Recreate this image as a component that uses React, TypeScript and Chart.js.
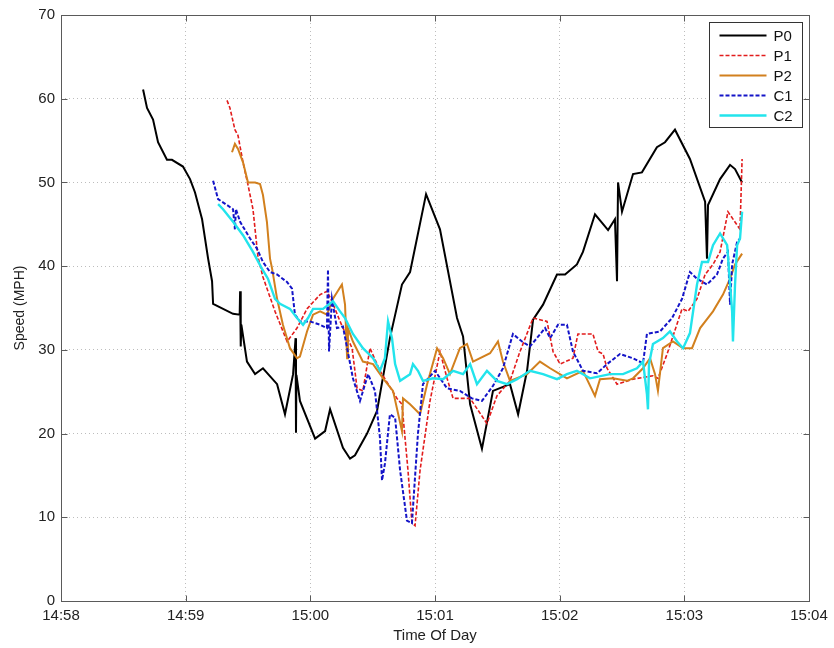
import React, { useEffect, useRef } from 'react';
import { Chart, registerables } from 'chart.js';

Chart.register(...registerables);

// x values: seconds after 14:58:00 ; y values: speed in MPH
const xTickLabels = ['14:58', '14:59', '15:00', '15:01', '15:02', '15:03', '15:04'];
const seriesNames = ['P0', 'P1', 'P2', 'C1', 'C2'];
const seriesColors = ['#000000', '#e21c1c', '#d2801e', '#1414c8', '#22e4ec'];
const seriesDashes: number[][] = [[], [4, 2], [], [4, 2], []];
const seriesWidths = [2, 1.6, 2, 2, 2.4];

const p0: [number, number][] = [
  [39.5, 61.1], [41.4, 58.9], [44.3, 57.5], [46.7, 54.8], [51.0, 52.7], [53.4, 52.7], [58.7, 51.9],
  [62.1, 50.4], [64.5, 48.8], [67.9, 45.6], [70.8, 40.9], [72.7, 38.2], [73.2, 35.5], [82.8, 34.3],
  [86.0, 34.2], [86.2, 37.0], [86.5, 30.4], [86.8, 33.0], [89.5, 28.6], [93.4, 27.1], [97.2, 27.8],
  [104.0, 25.9], [107.8, 22.3], [111.7, 27.1], [112.9, 31.4], [113.1, 20.1], [113.3, 27.0],
  [115.0, 23.9], [122.3, 19.4], [127.1, 20.3], [129.5, 22.9], [135.7, 18.3], [139.1, 17.0],
  [141.5, 17.4], [147.3, 20.0], [152.1, 22.7], [158.3, 31.4], [164.1, 37.8], [168.0, 39.3],
  [175.7, 48.6], [182.4, 44.4], [190.6, 33.8], [193.5, 31.6], [196.9, 23.5], [202.6, 18.2],
  [207.9, 25.1], [216.1, 25.9], [220.0, 22.3], [224.3, 27.5], [227.2, 33.6], [232.0, 35.4],
  [238.7, 39.0], [242.6, 39.0], [248.3, 40.2], [251.2, 41.7], [257.0, 46.2], [263.3, 44.3],
  [266.6, 45.6], [267.6, 38.2], [268.1, 50.0], [270.0, 46.5], [275.3, 51.0], [279.6, 51.2],
  [286.8, 54.2], [290.7, 54.8], [295.5, 56.3], [302.7, 52.8], [310.0, 47.7], [310.9, 40.9],
  [311.4, 47.3], [317.2, 50.4], [322.0, 52.1], [324.4, 51.6], [327.8, 50.0],
];

const p1: [number, number][] = [
  [79.9, 59.8], [81.3, 58.9], [83.7, 56.3], [85.2, 55.6], [87.6, 52.4], [90.0, 49.7], [92.4, 46.8],
  [94.8, 41.1], [97.2, 38.7], [103.0, 34.6], [108.8, 31.0], [113.6, 32.6], [118.4, 34.9],
  [124.7, 36.6], [128.0, 37.0], [130.4, 35.8], [134.3, 33.4], [140.1, 30.2], [142.5, 25.4],
  [145.3, 25.1], [148.7, 30.2], [153.5, 27.5], [161.7, 24.2], [164.1, 23.5], [167.0, 15.6],
  [168.9, 9.3], [170.4, 9.0], [172.8, 15.6], [177.6, 23.9], [182.4, 29.8], [185.8, 26.6],
  [188.7, 24.2], [196.9, 24.2], [205.0, 21.2], [209.8, 24.5], [216.1, 26.3], [220.9, 29.8],
  [227.2, 33.8], [233.9, 33.4], [236.8, 29.8], [240.2, 28.3], [246.4, 29.0], [248.8, 31.9],
  [256.0, 31.9], [258.5, 29.8], [260.9, 29.5], [262.8, 27.8], [267.6, 25.9], [275.3, 26.5],
  [284.9, 26.9], [287.3, 26.6], [291.7, 29.5], [298.9, 34.9], [301.8, 34.6], [306.1, 36.1],
  [310.0, 39.0], [313.8, 40.2], [317.2, 41.7], [321.0, 46.5], [325.4, 44.9], [326.8, 44.4],
  [327.8, 52.8],
];

const p2: [number, number][] = [
  [82.3, 53.6], [83.7, 54.6], [85.2, 54.0], [87.6, 52.4], [90.0, 50.0], [93.4, 50.0], [95.8, 49.8],
  [97.2, 48.5], [99.1, 45.3], [100.6, 40.9], [101.6, 39.7], [104.0, 36.1], [106.8, 33.0],
  [110.2, 30.2], [113.6, 29.0], [115.0, 29.2], [118.4, 32.2], [121.3, 34.2], [124.7, 34.6],
  [128.0, 34.2], [130.9, 36.1], [135.2, 37.8], [136.7, 35.4], [137.7, 29.0], [138.1, 32.6],
  [140.5, 31.0], [145.3, 28.6], [150.2, 28.3], [155.0, 26.6], [159.8, 25.1], [164.1, 20.3],
  [164.6, 24.2], [168.0, 23.5], [172.8, 22.3], [176.2, 25.9], [181.0, 30.2], [183.9, 29.0],
  [187.2, 27.1], [192.0, 30.2], [195.4, 30.7], [198.3, 28.6], [206.5, 29.6], [210.3, 31.0],
  [212.7, 28.6], [216.1, 26.3], [224.3, 27.1], [230.5, 28.6], [235.4, 27.8], [243.5, 26.6],
  [251.2, 27.5], [257.0, 24.5], [259.4, 26.5], [265.7, 26.6], [272.4, 26.3], [275.3, 26.6],
  [280.1, 27.8], [283.5, 29.0], [285.9, 27.1], [287.3, 25.1], [289.7, 30.2], [294.5, 31.0],
  [299.4, 30.2], [303.7, 30.2], [307.6, 32.6], [313.8, 34.6], [318.6, 36.6], [322.0, 38.5],
  [324.4, 40.2], [327.8, 41.5],
];

const c1: [number, number][] = [
  [73.2, 50.2], [75.6, 48.0], [79.9, 47.3], [82.8, 46.8], [83.7, 44.4], [84.2, 46.8], [86.2, 45.3],
  [91.0, 43.3], [94.3, 42.1], [97.2, 40.5], [100.6, 39.3], [104.0, 39.0], [108.8, 38.1],
  [111.2, 37.3], [112.6, 34.2], [115.0, 33.4], [119.8, 33.4], [124.7, 33.0], [128.0, 32.6],
  [128.5, 39.6], [129.0, 29.8], [130.4, 36.1], [132.8, 32.6], [135.7, 32.8], [140.5, 26.6],
  [143.9, 23.9], [147.8, 27.1], [151.1, 25.1], [153.5, 19.5], [154.5, 14.4], [155.9, 16.4],
  [158.3, 22.3], [160.8, 21.9], [163.2, 15.6], [166.5, 9.6], [168.9, 9.3], [171.8, 20.0],
  [174.2, 25.9], [180.0, 27.5], [185.8, 25.4], [192.0, 25.1], [197.8, 24.2], [202.6, 23.9],
  [207.9, 25.7], [212.7, 27.8], [217.5, 31.9], [221.9, 31.0], [225.7, 30.4], [233.0, 32.6],
  [235.4, 31.4], [239.2, 33.0], [243.5, 33.0], [246.4, 29.8], [251.2, 27.5], [258.0, 27.2],
  [262.8, 28.3], [269.0, 29.5], [275.3, 29.0], [280.1, 28.4], [282.0, 31.9], [288.3, 32.2],
  [294.1, 33.8], [298.9, 36.1], [302.7, 39.3], [306.1, 38.5], [310.9, 37.8], [315.7, 39.0],
  [318.6, 40.9], [321.0, 41.7], [322.0, 35.4], [323.0, 40.2], [325.4, 42.9], [326.8, 43.3],
];

const c2: [number, number][] = [
  [75.6, 47.4], [78.0, 46.8], [82.8, 45.3], [87.6, 43.7], [92.4, 41.7], [96.7, 39.7], [99.6, 38.5],
  [103.0, 36.1], [105.4, 35.5], [110.2, 34.9], [113.6, 33.8], [116.5, 33.0], [118.9, 33.8],
  [121.3, 34.9], [126.1, 34.9], [130.9, 35.8], [134.3, 34.6], [136.7, 33.8], [140.5, 31.9],
  [145.3, 30.2], [150.2, 29.0], [153.5, 27.5], [155.9, 29.0], [157.4, 33.4], [159.3, 31.4],
  [160.8, 28.3], [163.2, 26.3], [168.0, 27.1], [169.4, 28.3], [171.8, 27.5], [174.2, 26.3],
  [179.0, 26.6], [183.9, 26.5], [188.7, 27.5], [193.5, 27.1], [196.9, 28.3], [200.2, 25.9],
  [205.0, 27.5], [209.8, 26.3], [214.7, 25.9], [219.5, 26.5], [225.7, 27.5], [232.0, 27.1],
  [238.7, 26.5], [243.5, 27.1], [248.3, 27.5], [254.6, 26.6], [264.2, 27.1], [270.5, 27.1],
  [277.2, 27.8], [280.1, 28.6], [282.0, 24.7], [282.5, 22.9], [283.0, 28.3], [284.9, 30.7],
  [289.7, 31.4], [293.1, 32.2], [296.5, 31.0], [299.4, 30.2], [302.7, 32.0], [306.1, 37.8],
  [308.5, 40.5], [311.4, 40.5], [313.8, 42.5], [317.2, 43.9], [320.6, 42.5], [323.0, 34.6],
  [323.4, 31.0], [324.4, 37.8], [325.4, 42.5], [326.8, 43.3], [327.8, 46.5],
];

const seriesData = [p0, p1, p2, c1, c2];

const FONT = "'Liberation Sans', Arial, Helvetica, sans-serif";

const matlabFrame = {
  id: 'matlabFrame',
  afterDatasetsDraw(chart: any) {
    const { ctx, chartArea: a, scales } = chart;
    const L = Math.round(a.left) + 0.5;
    const R = Math.round(a.right) + 0.5;
    const T = Math.round(a.top) + 0.5;
    const B = Math.round(a.bottom) + 0.5;
    ctx.save();
    ctx.strokeStyle = '#5a5a5a';
    ctx.lineWidth = 1;
    ctx.beginPath();
    const tl = 6;
    scales.x.ticks.forEach((t: any) => {
      const px = Math.round(scales.x.getPixelForValue(t.value)) + 0.5;
      ctx.moveTo(px, B);
      ctx.lineTo(px, B - tl);
      ctx.moveTo(px, T);
      ctx.lineTo(px, T + tl);
    });
    scales.y.ticks.forEach((t: any) => {
      const py = Math.round(scales.y.getPixelForValue(t.value)) + 0.5;
      ctx.moveTo(L, py);
      ctx.lineTo(L + tl, py);
      ctx.moveTo(R, py);
      ctx.lineTo(R - tl, py);
    });
    ctx.stroke();
    ctx.strokeRect(L, T, R - L, B - T);

    // legend box (top-right, inside axes)
    const ds = chart.data.datasets;
    const boxW = 93;
    const rowH = 20;
    const boxH = ds.length * rowH + 5;
    const bx = Math.round(a.right - 7 - boxW) + 0.5;
    const by = Math.round(a.top + 7) + 0.5;
    ctx.fillStyle = '#ffffff';
    ctx.fillRect(bx, by, boxW, boxH);
    ctx.strokeStyle = '#333333';
    ctx.strokeRect(bx, by, boxW, boxH);
    ctx.font = `15px ${FONT}`;
    ctx.textBaseline = 'middle';
    ctx.textAlign = 'left';
    ds.forEach((d: any, i: number) => {
      const cy = by + 13 + i * rowH;
      ctx.beginPath();
      ctx.setLineDash(d.borderDash || []);
      ctx.strokeStyle = d.borderColor;
      ctx.lineWidth = d.borderWidth;
      ctx.moveTo(bx + 10, cy);
      ctx.lineTo(bx + 57, cy);
      ctx.stroke();
      ctx.setLineDash([]);
      ctx.fillStyle = '#111111';
      ctx.fillText(d.label, bx + 64, cy + 1);
    });
    ctx.restore();
  },
};

export default function App() {
  const ref = useRef<HTMLCanvasElement | null>(null);

  useEffect(() => {
    if (!ref.current) return;
    const datasets = seriesData.map((s, i) => ({
      label: seriesNames[i],
      data: s.map(([t, v]) => ({ x: t, y: v })),
      borderColor: seriesColors[i],
      backgroundColor: seriesColors[i],
      borderDash: seriesDashes[i],
      borderWidth: seriesWidths[i],
      pointRadius: 0,
      tension: 0,
      fill: false,
      order: seriesNames.length - i,
    }));

    const chart = new Chart(ref.current, {
      type: 'line',
      data: { datasets },
      options: {
        responsive: false,
        animation: false,
        devicePixelRatio: 1,
        layout: { padding: { left: 0, top: 12, right: 25, bottom: 0 } },
        plugins: {
          legend: { display: false },
          tooltip: { enabled: false },
        },
        scales: {
          x: {
            type: 'linear',
            min: 0,
            max: 360,
            afterFit: (scale: any) => {
              scale.height = 47;
            },
            ticks: {
              stepSize: 60,
              autoSkip: false,
              maxRotation: 0,
              padding: 6,
              color: '#222222',
              font: { family: FONT, size: 15 },
              callback: (v: any) => xTickLabels[Math.round(Number(v) / 60)],
            },
            grid: { color: '#bdbdbd', lineWidth: 1, drawTicks: false },
            border: { display: false, dash: [1, 3] },
            title: {
              display: true,
              text: 'Time Of Day',
              color: '#222222',
              font: { family: FONT, size: 15 },
              padding: { top: 0, bottom: 3 },
            },
          },
          y: {
            min: 0,
            max: 70,
            afterFit: (scale: any) => {
              scale.width = 61;
            },
            ticks: {
              stepSize: 10,
              padding: 6,
              color: '#222222',
              font: { family: FONT, size: 15 },
            },
            grid: { color: '#bdbdbd', lineWidth: 1, drawTicks: false },
            border: { display: false, dash: [1, 3] },
            title: {
              display: true,
              text: 'Speed (MPH)',
              color: '#222222',
              font: { family: FONT, size: 14 },
              padding: { top: 12, bottom: 0 },
            },
          },
        },
      },
      plugins: [matlabFrame],
    });
    return () => chart.destroy();
  }, []);

  return (
    <div style={{ position: 'absolute', left: 0, top: 0, width: 834, height: 648, background: '#fff' }}>
      <canvas ref={ref} width={834} height={648} />
    </div>
  );
}
